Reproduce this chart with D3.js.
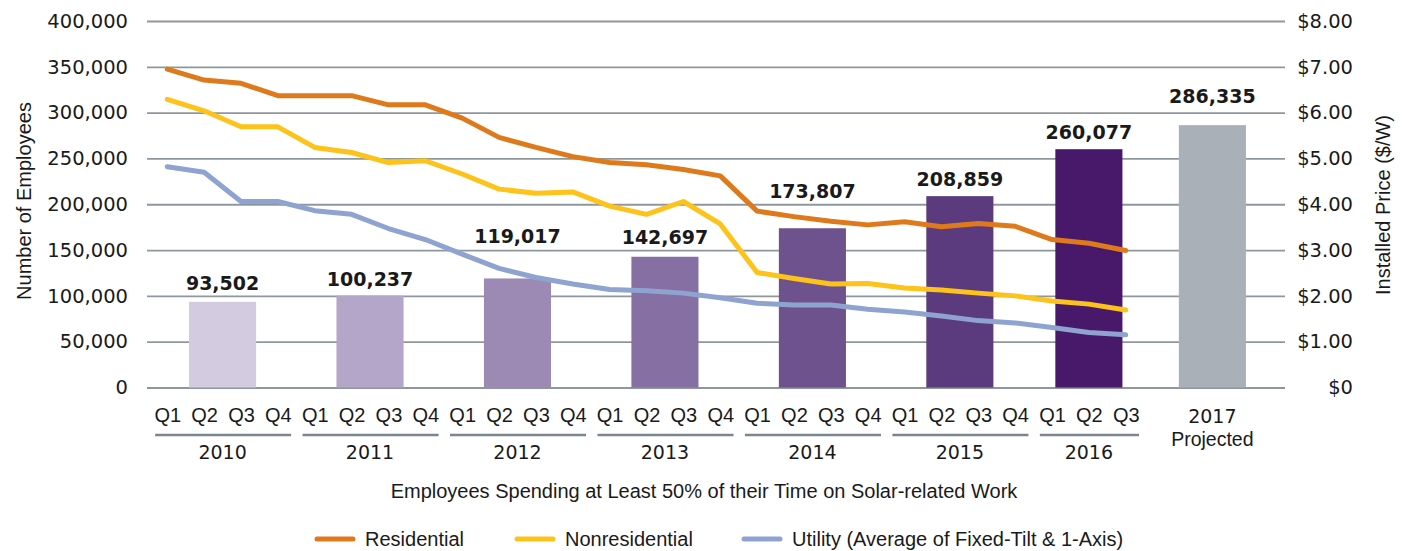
<!DOCTYPE html>
<html>
<head>
<meta charset="utf-8">
<script src="https://cdn.jsdelivr.net/npm/d3@7"></script>
<style>
  body { margin: 0; background: #fff; }
  svg { display: block; }
  text { fill: #1a1a1a; }
</style>
</head>
<body>
<div id="chart"></div>
<script>
// solar jobs (bars, left axis) against installed price per segment (lines, right axis)

const years = ["2010", "2011", "2012", "2013", "2014", "2015", "2016"];
const quartersPerYear = [4, 4, 4, 4, 4, 4, 3];
const quarterNames = ["Q1", "Q2", "Q3", "Q4"];
const projectedLabel = ["2017", "Projected"];

const employees = [93502, 100237, 119017, 142697, 173807, 208859, 260077, 286335];
const barColors = ["#d3cbe0", "#b3a6c9", "#9c8ab5", "#8670a3", "#6e528e", "#5c3a7e", "#48186a", "#aab0b7"];

// $/W, 2010 Q1 .. 2016 Q3
const residential = [6.95, 6.71, 6.64, 6.37, 6.37, 6.37, 6.17, 6.17, 5.88, 5.46, 5.24, 5.04, 4.91,
  4.86, 4.76, 4.62, 3.85, 3.73, 3.63, 3.55, 3.62, 3.51, 3.58, 3.52, 3.23, 3.15, 2.99];
const nonresidential = [6.29, 6.04, 5.69, 5.69, 5.24, 5.13, 4.91, 4.95, 4.66, 4.33, 4.24, 4.27, 3.96,
  3.78, 4.06, 3.57, 2.51, 2.38, 2.26, 2.27, 2.17, 2.13, 2.06, 2.00, 1.89, 1.82, 1.69];
const utility = [4.82, 4.70, 4.06, 4.06, 3.86, 3.78, 3.47, 3.23, 2.91, 2.60, 2.40, 2.26, 2.14,
  2.11, 2.06, 1.96, 1.84, 1.80, 1.80, 1.71, 1.65, 1.56, 1.46, 1.41, 1.31, 1.20, 1.15];

const series = [
  { name: "Residential", values: residential, color: "#df7a1c" },
  { name: "Nonresidential", values: nonresidential, color: "#fdc31a" },
  { name: "Utility (Average of Fixed-Tilt & 1-Axis)", values: utility, color: "#8fa3d1" },
];

const TEXT_FONT = "'Liberation Sans', Arial, sans-serif";
const NUM_FONT = "'DejaVu Sans', Verdana, sans-serif";

const W = 1408, H = 551;
const plot = { left: 147, right: 1285, top: 21, bottom: 387.5 };
const projectedSlot = 28.35;
// some value labels sit higher so they clear the price lines
const labelLift = [11.5, 10, 35, 13, 30, 10.5, 10.5, 22.5];

// quarter slot index for each year group
let start = 0;
const groups = years.map((y, k) => {
  const g = { year: y, start: start, end: start + quartersPerYear[k] - 1 };
  start += quartersPerYear[k];
  return g;
});
const quarterLabels = groups.flatMap(g => d3.range(g.end - g.start + 1).map(q => quarterNames[q]));
const barSlots = groups.map(g => (g.start + g.end) / 2).concat([projectedSlot]);

const x = d3.scaleLinear().domain([-0.55, 30.32]).range([plot.left, plot.right]);
const yEmp = d3.scaleLinear().domain([0, 400000]).range([plot.bottom, plot.top]);
const yPrice = d3.scaleLinear().domain([0, 8]).range([plot.bottom, plot.top]);

const svg = d3.select("#chart").append("svg").attr("width", W).attr("height", H);

// gridlines + left axis
const leftAxis = svg.append("g")
  .attr("transform", `translate(${plot.left},0)`)
  .call(d3.axisLeft(yEmp).ticks(8).tickFormat(d3.format(","))
    .tickSize(-(plot.right - plot.left)).tickPadding(19));
leftAxis.select(".domain").remove();
leftAxis.selectAll(".tick line").attr("stroke", "#8f979e").attr("stroke-width", 1.8);
leftAxis.selectAll(".tick text")
  .style("font-family", NUM_FONT).style("font-size", "19.5px").attr("fill", "#1a1a1a");

// right axis
const rightAxis = svg.append("g")
  .attr("transform", `translate(${plot.right},0)`)
  .call(d3.axisRight(yPrice).ticks(8).tickSize(0)
    .tickFormat(d => d === 0 ? "$0" : d3.format("$.2f")(d)));
rightAxis.select(".domain").remove();
rightAxis.selectAll(".tick text")
  .attr("x", 68).attr("text-anchor", "end")
  .style("font-family", NUM_FONT).style("font-size", "19.5px").attr("fill", "#1a1a1a");

// bars
const barW = x(1.82) - x(0);
svg.append("g").selectAll("rect")
  .data(employees)
  .join("rect")
  .attr("x", (d, i) => x(barSlots[i]) - barW / 2)
  .attr("y", d => yEmp(d))
  .attr("width", barW)
  .attr("height", d => yEmp(0) - yEmp(d))
  .attr("fill", (d, i) => barColors[i]);

svg.append("g").selectAll("text")
  .data(employees)
  .join("text")
  .attr("x", (d, i) => x(barSlots[i]))
  .attr("y", (d, i) => yEmp(d) - labelLift[i])
  .attr("text-anchor", "middle")
  .style("font-family", NUM_FONT).style("font-size", "19px").style("font-weight", "bold")
  .attr("fill", "#000")
  .text(d => d3.format(",")(d));

// price lines
const line = d3.line().x((d, i) => x(i)).y(d => yPrice(d));
svg.append("g").selectAll("path")
  .data(series)
  .join("path")
  .attr("d", s => line(s.values))
  .attr("fill", "none")
  .attr("stroke", s => s.color)
  .attr("stroke-width", 5)
  .attr("stroke-linejoin", "round")
  .attr("stroke-linecap", "round");

// quarter axis
const qAxis = svg.append("g")
  .attr("transform", "translate(0,404)")
  .call(d3.axisBottom(x).tickValues(d3.range(quarterLabels.length))
    .tickFormat(i => quarterLabels[i]).tickSize(0).tickPadding(0));
qAxis.select(".domain").remove();
qAxis.selectAll(".tick text")
  .attr("dy", "17.5")
  .style("font-family", TEXT_FONT).style("font-size", "20px").attr("fill", "#1a1a1a");

// year brackets
const yearG = svg.append("g").selectAll("g").data(groups).join("g");
yearG.append("line")
  .attr("x1", g => x(g.start - 0.33)).attr("x2", g => x(g.end + 0.36))
  .attr("y1", 435).attr("y2", 435)
  .attr("stroke", "#7c868e").attr("stroke-width", 2.5);
yearG.append("text")
  .attr("x", g => x((g.start + g.end) / 2)).attr("y", 458.5)
  .attr("text-anchor", "middle")
  .style("font-family", NUM_FONT).style("font-size", "19px")
  .text(g => g.year);

svg.append("g").selectAll("text")
  .data(projectedLabel)
  .join("text")
  .attr("x", x(projectedSlot))
  .attr("y", (d, i) => 423 + i * 22.5)
  .attr("text-anchor", "middle")
  .style("font-family", (d, i) => i === 0 ? NUM_FONT : TEXT_FONT)
  .style("font-size", (d, i) => i === 0 ? "19px" : "19.5px")
  .text(d => d);

// axis titles
svg.append("text")
  .attr("x", 704).attr("y", 498)
  .attr("text-anchor", "middle")
  .style("font-family", TEXT_FONT).style("font-size", "20px")
  .text("Employees Spending at Least 50% of their Time on Solar-related Work");

svg.append("text")
  .attr("transform", "translate(31,201) rotate(-90)")
  .attr("text-anchor", "middle")
  .style("font-family", TEXT_FONT).style("font-size", "20px")
  .text("Number of Employees");

svg.append("text")
  .attr("transform", "translate(1390,205) rotate(-90)")
  .attr("text-anchor", "middle")
  .style("font-family", TEXT_FONT).style("font-size", "20px")
  .text("Installed Price ($/W)");

// legend
const legendX = [315, 515, 742];
const legend = svg.append("g").selectAll("g")
  .data(series)
  .join("g")
  .attr("transform", (s, i) => `translate(${legendX[i]},539)`);
legend.append("line")
  .attr("x1", 2).attr("x2", 38)
  .attr("stroke", s => s.color).attr("stroke-width", 5).attr("stroke-linecap", "round");
legend.append("text")
  .attr("x", 50).attr("y", 7)
  .style("font-family", TEXT_FONT).style("font-size", "20px")
  .text(s => s.name);
</script>
</body>
</html>
